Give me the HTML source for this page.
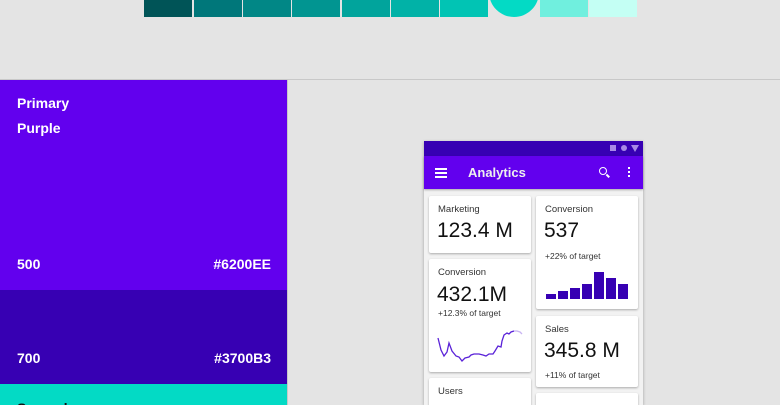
<!DOCTYPE html>
<html style="overflow:hidden;height:405px"><head><style>
html,body{margin:0;width:780px;height:405px;overflow:hidden}
body{background:#e4e4e4;font-family:"Liberation Sans",sans-serif;position:relative}
div{position:absolute;box-sizing:border-box}
.sw{top:0;height:17px;width:48px}
.t{color:#fff;font-size:14px;font-weight:600}
.card{background:#fff;border-radius:2px;box-shadow:0 1px 2px rgba(0,0,0,.3);overflow:hidden}
.lab{font-size:9.5px;color:#333;left:9px}
.big{font-size:21px;color:#111;left:8px}
.sub{font-size:8.5px;color:#333;left:9px}
</style></head><body>
<div class="sw" style="left:144px;background:#005457"></div>
<div class="sw" style="left:194px;background:#00777a"></div>
<div class="sw" style="left:243px;background:#018786"></div>
<div class="sw" style="left:292px;background:#019591"></div>
<div class="sw" style="left:342px;background:#01a49c"></div>
<div class="sw" style="left:391px;background:#01b2a7"></div>
<div class="sw" style="left:440px;background:#01c4b4"></div>
<div style="left:489px;top:-33px;width:50px;height:50px;border-radius:50%;background:#03dac5"></div>
<div class="sw" style="left:540px;background:#70efde"></div>
<div class="sw" style="left:589px;background:#c4fff4"></div>
<div style="left:0;top:79px;width:780px;height:1px;background:#c8c8c8"></div>
<div style="left:0;top:80px;width:287px;height:210px;background:#6200ee"></div>
<div style="left:0;top:290px;width:287px;height:94px;background:#3700b3"></div>
<div style="left:0;top:384px;width:287px;height:21px;background:#03dac5"></div>
<div style="left:287px;top:80px;width:1px;height:325px;background:#c8c8c8"></div>
<div class="t" style="left:17px;top:95px">Primary</div>
<div class="t" style="left:17px;top:120px">Purple</div>
<div class="t" style="left:17px;top:256px">500</div>
<div class="t" style="right:509px;top:256px">#6200EE</div>
<div class="t" style="left:17px;top:350px">700</div>
<div class="t" style="right:509px;top:350px">#3700B3</div>
<div style="left:17px;top:400px;font-size:14px;font-weight:600;color:#111">Secondary</div>

<div style="left:424px;top:141px;width:219px;height:264px;background:#f2f2f2;box-shadow:0 1px 3px rgba(0,0,0,.3)"></div>
<div style="left:424px;top:141px;width:219px;height:15px;background:#3700b3"></div>
<div style="left:610px;top:145px;width:6px;height:6px;background:#a98ae6"></div>
<div style="left:621px;top:145px;width:6px;height:6px;border-radius:50%;background:#a98ae6"></div>
<div style="left:631px;top:145px;width:0;height:0;border-left:4px solid transparent;border-right:4px solid transparent;border-top:7px solid #a98ae6"></div>
<div style="left:424px;top:156px;width:219px;height:33px;background:#6200ee;box-shadow:0 1px 2px rgba(0,0,0,.3)"></div>
<div style="left:435px;top:168px;width:12px;height:2px;background:#fff;box-shadow:0 4px 0 #fff,0 8px 0 #fff"></div>
<div class="t" style="left:468px;top:165px;font-size:13px;color:#eee">Analytics</div>
<div style="left:599px;top:167px;width:8px;height:8px;border:1.5px solid #fff;border-radius:50%"></div>
<div style="left:606px;top:175px;width:4px;height:1.5px;background:#fff;transform:rotate(45deg)"></div>
<div style="left:628px;top:167px;width:2px;height:2px;background:#fff;box-shadow:0 4px 0 #fff,0 8px 0 #fff"></div>

<div class="card" style="left:429px;top:196px;width:102px;height:57px">
<div class="lab" style="top:8px">Marketing</div><div class="big" style="top:23px">123.4 M</div></div>
<div class="card" style="left:429px;top:259px;width:102px;height:113px">
<div class="lab" style="top:8px">Conversion</div><div class="big" style="top:24px">432.1M</div>
<div class="sub" style="top:49px">+12.3% of target</div>
<svg style="position:absolute;left:0;top:0" width="102" height="113"><polyline fill="none" stroke="#5a22d8" stroke-width="1.3" points="9,79 12,91 15,97 18,93 20,84 23,92 27,97 30,98 33,102 36,99 40,98 42,96 45,95 50,95 54,96 57,97 60,95 64,95 66,92 69,87 72,88 73,82 75,76 78,74 80,75 82,73 85,72"/><polyline fill="none" stroke="#c8b4f2" stroke-width="1.3" points="85,72 88,72 91,73 93,75"/></svg></div>
<div class="card" style="left:429px;top:378px;width:102px;height:40px">
<div class="lab" style="top:8px">Users</div></div>

<div class="card" style="left:536px;top:196px;width:102px;height:113px">
<div class="lab" style="top:8px">Conversion</div><div class="big" style="top:23px">537</div>
<div class="sub" style="top:55px">+22% of target</div>
<svg style="position:absolute;left:0;top:0" width="102" height="113"><g fill="#3700b3">
<rect x="10" y="98" width="10" height="5"/><rect x="22" y="95" width="10" height="8"/><rect x="34" y="92" width="10" height="11"/><rect x="46" y="88" width="10" height="15"/><rect x="58" y="76" width="10" height="27"/><rect x="70" y="82" width="10" height="21"/><rect x="82" y="88" width="10" height="15"/></g></svg></div>
<div class="card" style="left:536px;top:316px;width:102px;height:71px">
<div class="lab" style="top:8px">Sales</div><div class="big" style="top:23px">345.8 M</div>
<div class="sub" style="top:54px">+11% of target</div></div>
<div class="card" style="left:536px;top:393px;width:102px;height:30px"></div>
</body></html>
